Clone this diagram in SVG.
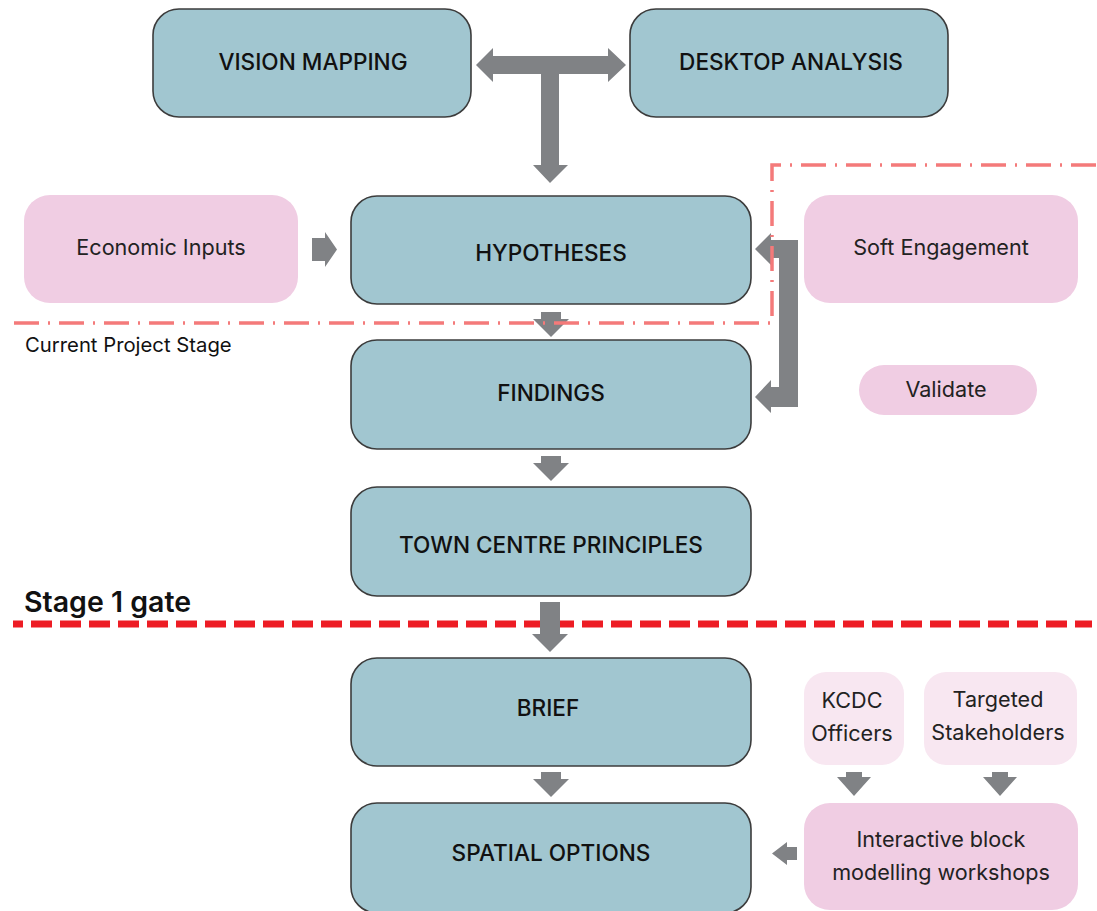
<svg xmlns="http://www.w3.org/2000/svg" width="1097" height="911" viewBox="0 0 1097 911">
<style>
.blue{fill:#a1c6d0;stroke:#3c3c3c;stroke-width:1.6}
.pink{fill:#f0cde3}
.lpink{fill:#f8e7f1}
.bt{font-family:Inter,"Liberation Sans",sans-serif;font-weight:500;font-size:22.6px;fill:#111;text-anchor:middle}
.pt{font-family:Inter,"Liberation Sans",sans-serif;font-weight:400;font-size:21.6px;fill:#222;text-anchor:middle}
.arr{fill:#808285}
</style>
<rect width="1097" height="911" fill="#ffffff"/>
<g id="redgate">
<path d="M13,624 H1092" fill="none" stroke="#ed1c24" stroke-width="7" stroke-dasharray="21 8" stroke-dashoffset="11"/>
</g>
<g id="vision"><rect class="blue" x="153" y="9" width="318" height="108" rx="26"/><text class="bt" x="313" y="70">VISION MAPPING</text></g>
<g id="desktop"><rect class="blue" x="630" y="9" width="318" height="108" rx="26"/><text class="bt" x="791" y="70">DESKTOP ANALYSIS</text></g>
<g id="hypotheses"><rect class="blue" x="351" y="196" width="400" height="108" rx="26"/><text class="bt" x="551" y="261">HYPOTHESES</text></g>
<g id="findings"><rect class="blue" x="351" y="340" width="400" height="109" rx="26"/><text class="bt" x="551" y="401">FINDINGS</text></g>
<g id="principles"><rect class="blue" x="351" y="487" width="400" height="109" rx="26"/><text class="bt" x="551" y="553">TOWN CENTRE PRINCIPLES</text></g>
<g id="brief"><rect class="blue" x="351" y="658" width="400" height="108" rx="26"/><text class="bt" x="548" y="716">BRIEF</text></g>
<g id="spatial"><rect class="blue" x="351" y="803" width="400" height="110" rx="26"/><text class="bt" x="551" y="861">SPATIAL OPTIONS</text></g>
<g id="economic"><rect class="pink" x="24" y="195" width="274" height="108" rx="26"/><text class="pt" x="161" y="255">Economic Inputs</text></g>
<g id="soft"><rect class="pink" x="804" y="195" width="274" height="108" rx="26"/><text class="pt" x="941" y="255">Soft Engagement</text></g>
<g id="validate"><rect class="pink" x="859" y="365" width="178" height="50" rx="25"/><text class="pt" x="946" y="397">Validate</text></g>
<g id="kcdc"><rect class="lpink" x="804" y="672" width="100" height="93" rx="22"/><text class="pt" x="852" y="708">KCDC</text><text class="pt" x="852" y="741">Officers</text></g>
<g id="targeted"><rect class="lpink" x="924" y="672" width="153" height="93" rx="22"/><text class="pt" x="998" y="707">Targeted</text><text class="pt" x="998" y="740">Stakeholders</text></g>
<g id="workshops"><rect class="pink" x="804" y="803" width="274" height="107" rx="26"/><text class="pt" x="941" y="847">Interactive block</text><text class="pt" x="941" y="880">modelling workshops</text></g>
<g id="connectors">
<path class="arr" d="M476,65 L493,48 L493,56 L608,56 L608,48 L626,65 L608,82 L608,74 L559,74 L559,165 L568,165 L550,183 L533,165 L541,165 L541,74 L493,74 L493,82 Z"/>
<path class="arr" d="M312,238 L325,238 L325,232 L337,249.5 L325,267 L325,261 L312,261 Z"/>
<path class="arr" d="M541,312 L561,312 L561,319 L569,319 L551,337 L533,319 L541,319 Z"/>
<path class="arr" d="M541,456 L561,456 L561,463 L569,463 L551,481 L533,463 L541,463 Z"/>
<path class="arr" d="M540,602 L560,602 L560,634 L568,634 L550,652 L532,634 L540,634 Z"/>
<path class="arr" d="M541,772 L561,772 L561,779 L569,779 L551,797 L533,779 L541,779 Z"/>
<path class="arr" d="M846,772 L862,772 L862,777 L871,777 L854,796 L837,777 L846,777 Z"/>
<path class="arr" d="M992,772 L1008,772 L1008,777 L1017,777 L1000,796 L983,777 L992,777 Z"/>
<path class="arr" d="M797,847 L787,847 L787,842 L772,853.5 L787,865 L787,860 L797,860 Z"/>
<path class="arr" d="M798,240 L798,407 L771,407 L771,413 L755,397 L771,380 L771,387 L779,387 L779,258 L771,258 L771,265 L755,249 L771,233 L771,240 Z"/>
</g>
<g id="stage-line">
<path d="M14,323 H772 V165 H1097" fill="none" stroke="#f47a7a" stroke-width="3.5" stroke-dasharray="25 9 2 9"/>
</g>
<text x="25" y="352" font-family="Inter,'Liberation Sans',sans-serif" font-size="20.3" fill="#111">Current Project Stage</text>
<text x="24" y="612" font-family="Inter,'Liberation Sans',sans-serif" font-size="28.5" font-weight="600" fill="#111">Stage 1 gate</text>
</svg>
